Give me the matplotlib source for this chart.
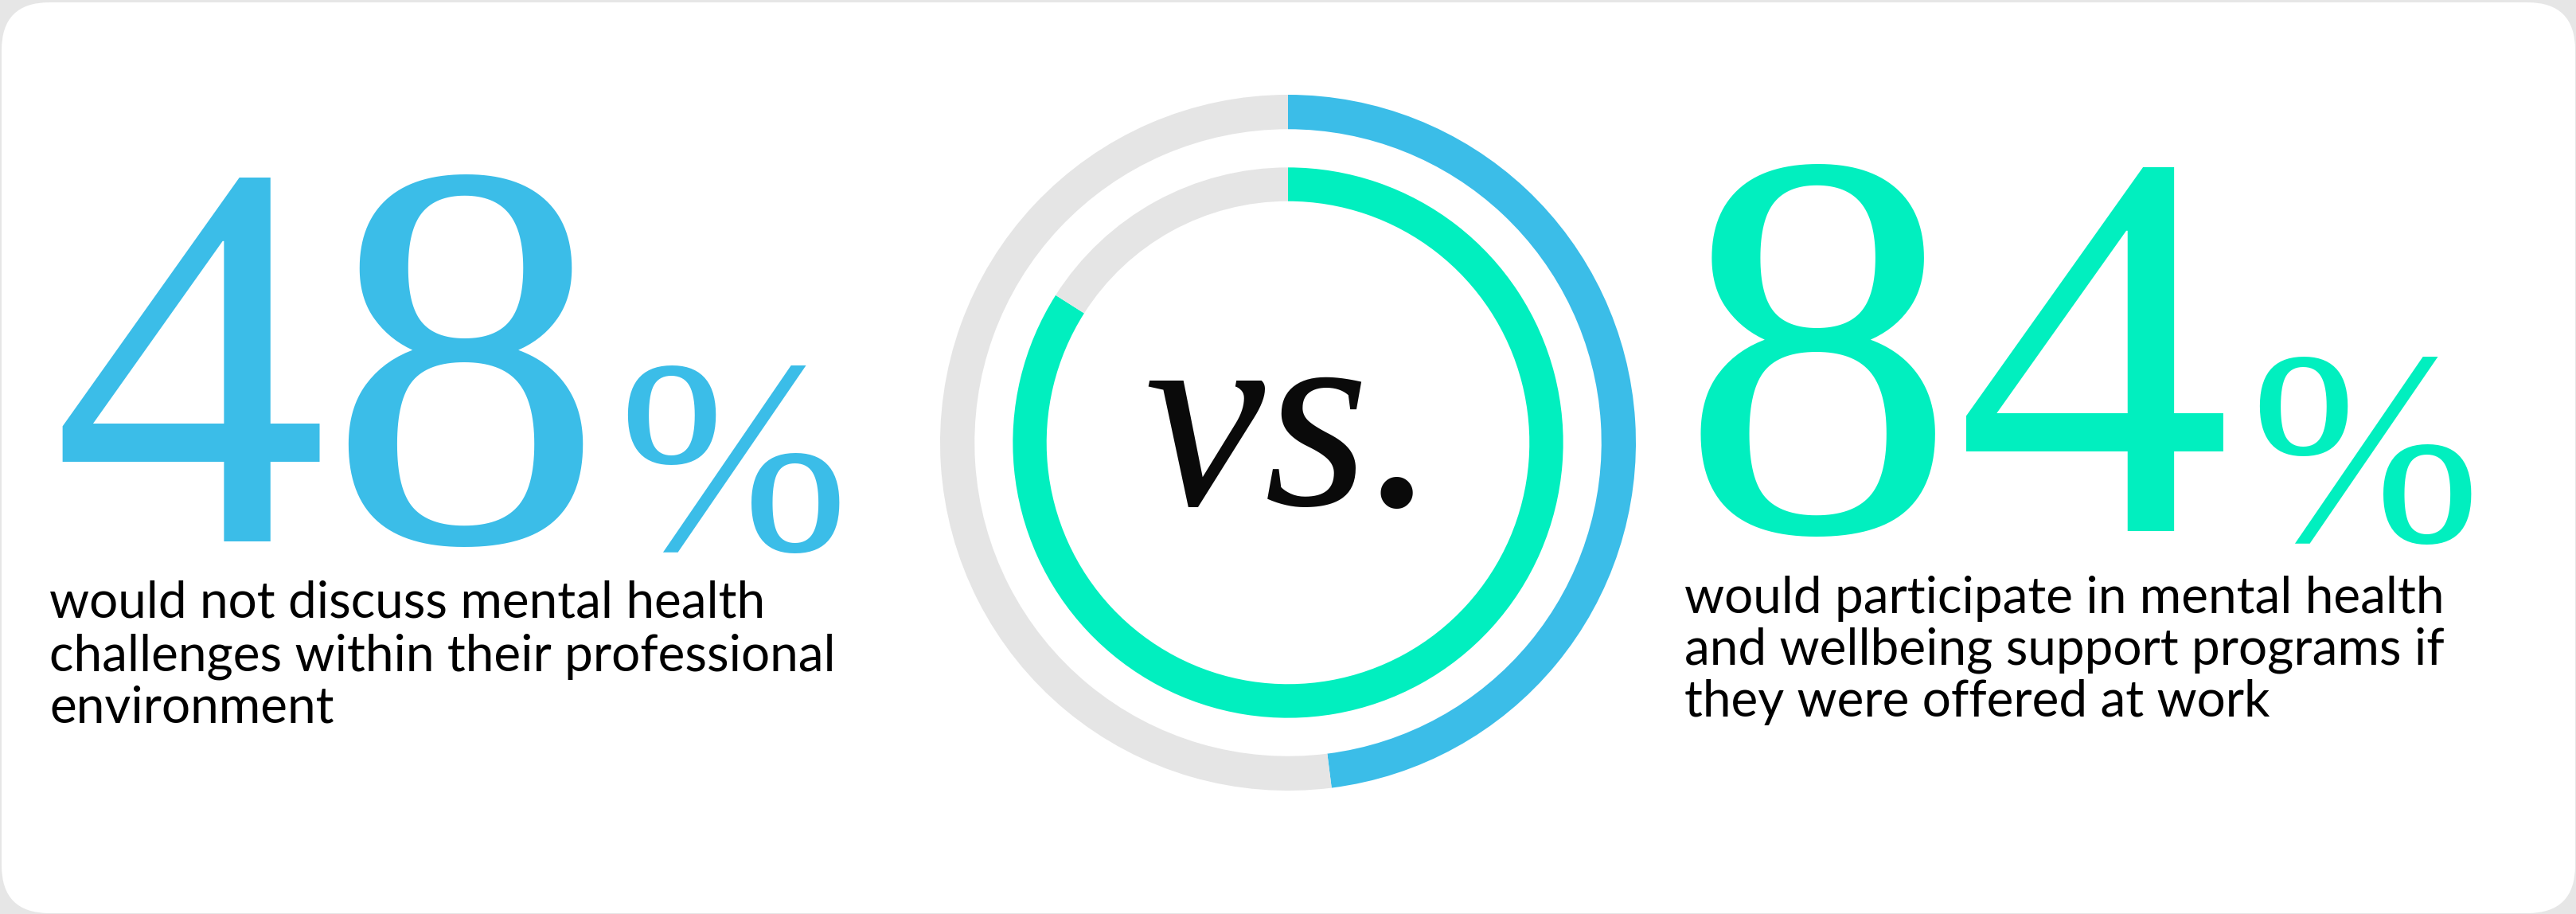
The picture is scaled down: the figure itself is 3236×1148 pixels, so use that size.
import matplotlib.pyplot as plt
from matplotlib.patches import FancyBboxPatch

W, H = 3237, 1148
DPI = 100

BLUE = "#3bbde8"
GREEN = "#01efbf"
GREY = "#e5e5e5"

# survey results
not_discuss_pct = 48
would_participate_pct = 84

left_lines = [
    "would not discuss mental health",
    "challenges within their professional",
    "environment",
]
right_lines = [
    "would participate in mental health",
    "and wellbeing support programs if",
    "they were offered at work",
]

fig = plt.figure(figsize=(W / DPI, H / DPI), dpi=DPI, facecolor="#e6e6e6")

# full-figure axes in pixel units for the card and the text
bg = fig.add_axes([0, 0, 1, 1])
bg.set_xlim(0, W)
bg.set_ylim(H, 0)
bg.axis("off")

card = FancyBboxPatch(
    (2 + 60, 3 + 60), W - 4 - 120, H - 4 - 120,
    boxstyle="round,pad=60", facecolor="white", edgecolor="none",
)
bg.add_patch(card)

num_font = "Liberation Serif"
body_font = "Lato"

# left statistic
bg.text(64, 680, f"{not_discuss_pct}", fontsize=500, family=num_font, color=BLUE,
        ha="left", va="baseline")
bg.text(776, 690, "%", fontsize=250, family=num_font, color=BLUE,
        ha="left", va="baseline")
for i, line in enumerate(left_lines):
    bg.text(62, 776 + i * 66, line, fontsize=46, family=body_font, color="black",
            ha="left", va="baseline")

# right statistic
bg.text(2110, 667, f"{would_participate_pct}", fontsize=500, family=num_font, color=GREEN,
        ha="left", va="baseline")
bg.text(2826, 679, "%", fontsize=250, family=num_font, color=GREEN,
        ha="left", va="baseline")
for i, line in enumerate(right_lines):
    bg.text(2116, 770 + i * 65, line, fontsize=46, family=body_font, color="black",
            ha="left", va="baseline")

# concentric progress rings
cx, cy, r_out = 1618, 556, 437
ring = fig.add_axes([(cx - r_out) / W, 1 - (cy + r_out) / H, 2 * r_out / W, 2 * r_out / H])
ring.pie([not_discuss_pct, 100 - not_discuss_pct], radius=1.0, startangle=90,
         counterclock=False, colors=[BLUE, GREY],
         wedgeprops=dict(width=0.099, edgecolor="none"))
ring.pie([would_participate_pct, 100 - would_participate_pct], radius=0.791, startangle=90,
         counterclock=False, colors=[GREEN, GREY],
         wedgeprops=dict(width=0.097, edgecolor="none"))
ring.set_xlim(-1, 1)
ring.set_ylim(-1, 1)
ring.set_aspect("equal")
ring.axis("off")

bg.text(1622, 634, "vs.", fontsize=245, family=num_font, style="italic", color="#0a0a0a",
        ha="center", va="baseline")

fig.savefig("out.png", dpi=DPI, facecolor=fig.get_facecolor())
